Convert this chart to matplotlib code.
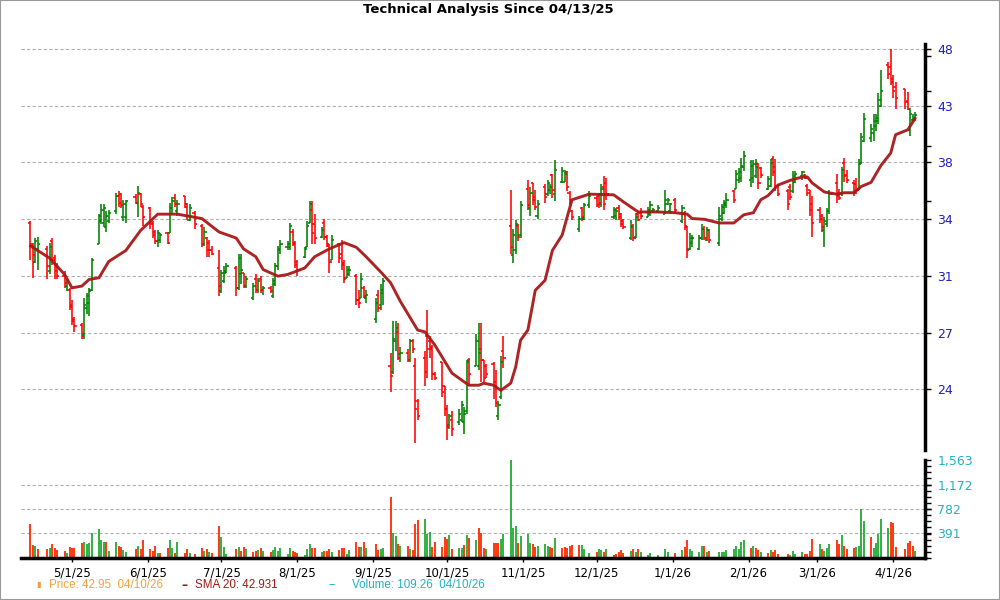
import matplotlib
matplotlib.use("Agg")
import matplotlib.pyplot as plt
import matplotlib.dates as mdates
from matplotlib.ticker import FixedLocator, FuncFormatter, NullFormatter
from matplotlib.patches import Rectangle
import numpy as np
import pandas as pd

# trading days shown (US market holidays removed)
holidays = ["2025-04-18", "2025-05-26", "2025-06-19", "2025-07-04", "2025-09-01",
            "2025-11-27", "2025-12-25", "2026-01-01", "2026-01-19", "2026-02-16",
            "2026-04-03"]
days = pd.bdate_range("2025-04-14", "2026-04-10")
days = days[~days.isin(pd.to_datetime(holidays))]

# daily OHLC, one line per week
opens = [34.0, 32.5, 31.5, 32.3,
         32.3, 30.9, 32.8, 31.7, 31.2,
         30.6, 30.0, 29.8, 28.9, 28.1,
         27.8, 27.3, 28.7, 29.0, 29.8,
         32.6, 34.1, 34.0, 33.7, 34.1,
         34.8, 35.9, 36.0, 34.4, 34.4,
         35.8, 35.4, 36.0, 35.1,
         35.0, 34.0, 33.4, 32.8, 32.9,
         33.3, 33.3, 35.0, 35.7, 34.8,
         35.9, 35.3, 34.2, 34.7,
         33.8, 32.6, 33.0, 32.7, 32.2,
         31.1, 29.7, 30.3, 30.8,
         31.1, 29.9, 30.7, 30.8, 30.0,
         29.3, 30.4, 29.8, 30.4, 29.8,
         29.9, 29.4, 30.1, 31.2, 32.2,
         32.4, 32.4, 33.4, 32.6, 31.5,
         31.8, 32.4, 34.0, 34.9, 33.9,
         33.1, 34.0, 33.1, 32.5, 31.6,
         32.6, 32.0, 31.4, 30.5, 30.7,
         30.6, 29.2, 29.3, 29.9, 29.3,
         28.1, 29.5, 28.9, 29.6,
         25.6, 25.3, 26.9, 27.4, 26.2,
         26.3, 25.9, 26.9, 25.6, 23.9,
         26.0, 27.2, 26.9, 26.5, 25.2,
         25.8, 24.6, 23.5, 22.8, 23.0,
         22.9, 23.0, 22.9, 23.4, 25.9,
         25.6, 25.6, 26.5, 25.9, 25.6,
         25.7, 24.8, 23.2, 24.1, 26.4,
         33.8, 31.9, 32.2, 33.8, 33.2,
         36.4, 35.0, 36.8, 35.8, 34.5,
         36.5, 36.0, 36.3, 37.4, 36.0,
         36.9, 36.9, 37.6, 36.1, 34.8,
         33.6, 35.0, 34.3, 35.2,
         35.7, 35.9, 35.3, 36.5, 36.8,
         34.4, 34.5, 35.0, 34.6, 34.1,
         33.0, 33.7, 33.1, 34.6, 34.7,
         34.4, 34.6, 34.8, 34.8,
         34.6, 35.3, 34.8, 35.6,
         34.1, 34.7, 33.7, 32.3, 32.7,
         32.3, 33.0, 33.6, 32.9, 33.5,
         32.7, 34.3, 34.7, 35.2,
         36.2, 36.4, 37.0, 37.2, 38.0,
         37.0, 37.2, 37.3, 38.2, 37.9,
         36.4, 36.6, 38.6, 38.0, 36.6,
         36.2, 36.5, 36.2, 36.9,
         37.3, 37.4, 36.6, 36.3, 35.3,
         34.9, 34.5, 33.5, 33.9, 34.8,
         36.8, 36.0, 36.0, 38.3, 37.4,
         36.8, 36.7, 36.4, 38.3, 40.0,
         40.2, 40.6, 41.2, 41.6, 42.9,
         46.5, 46.3, 45.0, 44.5,
         44.3, 43.3, 40.9, 41.7, 41.8]
highs = [34.1, 32.7, 33.0, 33.1,
         32.5, 32.7, 33.0, 31.9, 31.4,
         30.9, 30.4, 29.9, 29.2, 28.2,
         27.9, 29.3, 29.6, 29.9, 31.7,
         34.6, 35.3, 35.3, 34.8, 34.9,
         36.1, 36.2, 36.1, 35.6, 35.6,
         36.0, 36.6, 36.1, 35.2,
         35.1, 34.1, 33.5, 33.5, 33.3,
         33.4, 35.4, 35.8, 36.0, 35.6,
         35.9, 35.4, 35.3, 34.8,
         33.9, 33.7, 33.1, 32.9, 32.5,
         32.2, 31.0, 31.2, 31.4,
         31.2, 32.0, 32.0, 30.8, 30.6,
         30.2, 30.7, 30.5, 30.6, 30.0,
         30.0, 30.5, 31.4, 32.5, 32.9,
         32.8, 34.0, 33.6, 32.8, 31.6,
         32.4, 34.1, 35.5, 35.5, 34.6,
         33.7, 34.3, 33.2, 32.6, 33.2,
         32.7, 32.9, 31.6, 31.2, 31.2,
         30.7, 29.8, 30.8, 30.0, 29.8,
         29.3, 29.8, 30.1, 30.5,
         26.3, 28.0, 28.0, 27.9, 26.6,
         26.5, 27.0, 27.0, 26.0, 24.0,
         26.4, 28.6, 27.2, 26.7, 25.3,
         25.8, 24.6, 23.7, 23.3, 23.4,
         23.5, 23.9, 23.6, 25.9, 26.0,
         27.3, 27.9, 27.9, 25.9, 25.7,
         25.8, 25.4, 23.9, 26.1, 27.2,
         36.3, 33.6, 34.2, 33.9, 35.5,
         37.0, 36.5, 36.8, 36.3, 35.6,
         36.7, 37.0, 36.7, 37.5, 38.5,
         38.0, 37.8, 37.7, 36.2, 34.9,
         34.5, 35.1, 35.4, 36.2,
         35.9, 36.1, 36.7, 37.3, 37.2,
         35.1, 35.0, 35.2, 34.7, 34.3,
         34.2, 33.9, 34.7, 34.7, 35.0,
         35.1, 35.5, 35.0, 35.2,
         36.3, 35.7, 35.4, 35.7,
         35.2, 34.8, 33.8, 33.3, 33.2,
         33.2, 33.9, 33.8, 33.7, 33.6,
         35.1, 35.3, 35.6, 36.1,
         36.3, 37.8, 37.9, 38.7, 39.2,
         38.5, 38.5, 38.6, 38.3, 38.0,
         37.3, 38.6, 38.8, 38.6, 36.7,
         36.4, 36.7, 37.7, 37.7,
         37.7, 37.5, 36.7, 36.3, 35.9,
         35.1, 34.6, 34.4, 35.0, 36.3,
         37.5, 36.4, 38.0, 38.7, 37.8,
         37.0, 37.2, 38.6, 40.6, 42.3,
         41.4, 42.2, 42.2, 44.0, 46.0,
         46.8, 48.0, 45.6, 45.0,
         44.3, 44.1, 42.7, 42.2, 42.4]
lows = [31.6, 30.5, 31.4, 31.0,
        30.4, 30.7, 31.3, 30.4, 30.4,
        29.9, 29.7, 28.6, 27.8, 27.4,
        27.0, 27.0, 28.4, 28.3, 29.7,
        32.6, 33.9, 33.7, 33.4, 34.0,
        34.6, 35.1, 35.0, 34.1, 34.0,
        35.3, 34.4, 35.1, 33.8,
        33.6, 33.0, 32.6, 32.4, 32.7,
        32.6, 33.3, 34.6, 35.1, 34.5,
        35.0, 34.2, 34.1, 33.6,
        32.4, 32.5, 31.8, 31.8, 31.9,
        29.4, 29.6, 30.2, 30.8,
        29.4, 29.8, 30.1, 29.9, 29.9,
        29.2, 29.6, 29.6, 29.6, 29.5,
        29.6, 29.3, 30.0, 31.0, 32.0,
        32.2, 32.2, 32.5, 31.1, 30.6,
        31.7, 32.4, 34.0, 32.6, 32.6,
        33.0, 32.9, 32.4, 30.8, 31.6,
        31.4, 31.0, 30.2, 30.5, 30.6,
        28.9, 28.7, 29.3, 29.3, 29.0,
        27.9, 28.5, 28.6, 28.9,
        24.3, 25.2, 26.4, 25.9, 25.8,
        25.8, 25.8, 26.3, 22.0, 23.0,
        24.6, 25.0, 26.0, 24.9, 24.9,
        24.1, 23.2, 22.1, 22.6, 22.3,
        22.8, 22.9, 22.4, 23.3, 24.6,
        25.6, 25.4, 24.8, 24.8, 25.0,
        24.0, 23.6, 23.0, 24.0, 25.5,
        32.0, 31.4, 32.0, 32.8, 33.0,
        34.9, 34.5, 35.2, 34.9, 34.3,
        35.4, 35.9, 36.0, 35.7, 35.5,
        36.8, 36.9, 36.2, 35.2, 34.2,
        33.4, 34.1, 34.2, 35.0,
        35.1, 35.0, 35.1, 34.9, 35.6,
        34.3, 34.2, 34.2, 33.7, 33.6,
        32.9, 32.8, 33.0, 34.1, 34.3,
        34.4, 34.5, 34.7, 34.7,
        34.6, 35.2, 34.7, 34.7,
        34.0, 33.5, 31.7, 32.2, 32.4,
        32.2, 32.9, 32.9, 32.8, 32.7,
        32.5, 34.1, 34.6, 35.0,
        35.4, 36.4, 36.8, 36.9, 37.7,
        36.5, 36.8, 37.2, 36.4, 37.2,
        36.3, 36.5, 37.3, 36.2, 35.9,
        34.9, 35.6, 36.1, 36.8,
        37.0, 37.1, 35.9, 34.5, 33.1,
        34.0, 33.4, 32.4, 33.7, 34.6,
        35.4, 35.6, 35.9, 36.9, 36.8,
        35.9, 36.0, 36.3, 38.2, 39.9,
        39.9, 40.0, 40.8, 41.4, 42.8,
        45.2, 44.7, 43.6, 42.6,
        42.6, 42.5, 40.4, 41.5, 41.6]
closes = [32.6, 31.9, 32.8, 32.6,
          31.2, 32.4, 31.6, 30.9, 30.6,
          30.2, 30.3, 28.8, 28.0, 27.7,
          27.2, 28.9, 29.4, 29.7, 31.6,
          34.5, 34.9, 35.0, 34.5, 34.7,
          35.9, 35.4, 35.2, 35.3, 35.5,
          35.4, 36.1, 35.3, 34.4,
          33.9, 33.2, 32.8, 33.3, 33.2,
          32.7, 35.0, 35.5, 35.3, 35.3,
          35.1, 34.5, 35.0, 33.9,
          32.6, 33.4, 32.2, 32.2, 32.0,
          30.0, 30.8, 30.9, 31.2,
          29.9, 31.7, 31.0, 30.0, 30.4,
          30.0, 29.8, 30.3, 29.8, 29.9,
          29.7, 30.3, 31.2, 32.3, 32.6,
          32.6, 33.8, 32.7, 31.3, 31.0,
          32.3, 33.8, 35.3, 33.3, 33.0,
          33.5, 33.1, 32.6, 31.5, 32.9,
          31.7, 31.3, 30.4, 31.0, 31.0,
          29.2, 29.0, 30.4, 29.4, 29.5,
          29.0, 28.7, 29.8, 30.3,
          25.1, 27.0, 27.6, 26.0, 26.3,
          25.9, 26.9, 26.5, 23.5, 23.2,
          25.3, 26.5, 26.6, 25.2, 25.0,
          24.3, 23.5, 22.7, 23.2, 22.6,
          23.3, 23.7, 23.3, 25.8, 25.2,
          26.9, 26.3, 25.9, 25.0, 25.2,
          24.6, 23.8, 23.7, 25.8, 26.0,
          32.4, 33.2, 33.9, 33.1, 35.2,
          35.2, 36.1, 35.6, 35.1, 35.3,
          35.8, 36.8, 36.5, 36.3, 37.8,
          37.7, 37.5, 36.5, 35.6, 34.4,
          34.3, 34.4, 35.2, 35.9,
          35.2, 35.4, 36.4, 35.3, 36.0,
          34.9, 34.8, 34.4, 33.9, 33.7,
          33.8, 33.0, 34.4, 34.2, 34.5,
          34.9, 35.2, 34.9, 35.0,
          35.6, 35.6, 35.3, 34.9,
          35.0, 33.8, 32.2, 33.0, 33.0,
          33.0, 33.6, 33.0, 33.5, 32.9,
          34.5, 35.1, 35.4, 35.6,
          35.6, 37.5, 37.6, 38.1, 38.8,
          38.1, 38.2, 38.0, 36.8, 37.4,
          37.1, 38.3, 37.6, 36.6, 36.0,
          35.3, 35.8, 37.3, 37.5,
          37.6, 37.2, 36.1, 34.9, 34.0,
          34.3, 33.7, 34.1, 34.8, 36.0,
          35.9, 35.7, 37.8, 37.3, 37.0,
          36.2, 36.3, 38.2, 40.3, 41.8,
          41.0, 41.6, 41.9, 43.4, 44.2,
          45.7, 45.2, 44.2, 43.6,
          43.2, 42.6, 42.2, 41.9, 42.1]
volumes = [537, 213, 186, 138,
           138, 165, 229, 154, 133,
           117, 85, 181, 165, 165,
           234, 260, 229, 245, 404,
           468, 292, 260, 260, 117,
           260, 197, 181, 133, 101,
           149, 197, 149, 292,
           149, 117, 197, 85, 85,
           165, 292, 165, 85, 260,
           85, 149, 85, 69,
           165, 117, 149, 101, 85,
           516, 340, 181, 69,
           149, 181, 117, 181, 149,
           101, 117, 133, 165, 117,
           101, 133, 181, 117, 165,
           69, 165, 117, 101, 85,
           53, 149, 229, 165, 165,
           101, 117, 117, 149, 101,
           133, 165, 165, 69, 133,
           260, 181, 181, 260, 165,
           229, 133, 149, 165,
           978, 404, 356, 229, 197,
           197, 149, 133, 548, 612,
           627, 388, 420, 181, 260,
           181, 340, 308, 372, 149,
           165, 165, 213, 372, 324,
           292, 484, 404, 165, 149,
           245, 245, 245, 308, 388,
           1560, 484, 516, 245, 356,
           388, 245, 229, 181, 197,
           229, 197, 181, 165, 324,
           165, 181, 165, 197, 213,
           213, 213, 149, 85,
           101, 149, 133, 101, 149,
           53, 69, 101, 133, 85,
           117, 149, 101, 149, 101,
           53, 85, 21, 53,
           149, 101, 21, 85,
           133, 181, 292, 149, 117,
           101, 197, 197, 101, 117,
           101, 101, 101, 133,
           149, 197, 149, 260, 292,
           165, 197, 165, 133, 101,
           85, 133, 101, 133, 69,
           69, 53, 117, 69,
           101, 69, 69, 117, 308,
           229, 149, 117, 165, 229,
           292, 229, 372, 197, 149,
           165, 181, 197, 787, 595,
           340, 165, 245, 388, 627,
           484, 580, 564, 181,
           149, 245, 276, 197, 109]

# 20-day simple moving average as drawn
sma_dates = ["2025-04-14", "2025-04-22", "2025-04-28", "2025-05-01", "2025-05-05",
             "2025-05-08", "2025-05-12", "2025-05-16", "2025-05-23", "2025-05-29",
             "2025-06-05", "2025-06-13", "2025-06-23", "2025-06-30", "2025-07-07",
             "2025-07-10", "2025-07-15", "2025-07-18", "2025-07-24", "2025-07-28",
             "2025-08-04", "2025-08-08", "2025-08-14", "2025-08-20", "2025-08-25",
             "2025-08-29", "2025-09-04", "2025-09-08", "2025-09-12", "2025-09-19",
             "2025-09-22", "2025-09-26", "2025-10-03", "2025-10-07", "2025-10-10",
             "2025-10-14", "2025-10-16", "2025-10-20", "2025-10-23", "2025-10-27",
             "2025-10-29", "2025-10-31", "2025-11-03", "2025-11-06", "2025-11-10",
             "2025-11-13", "2025-11-17", "2025-11-19", "2025-11-21", "2025-11-28",
             "2025-12-08", "2025-12-12", "2025-12-18", "2025-12-26", "2026-01-02",
             "2026-01-07", "2026-01-09", "2026-01-14", "2026-01-20", "2026-01-26",
             "2026-01-30", "2026-02-03", "2026-02-06", "2026-02-09", "2026-02-13",
             "2026-02-18", "2026-02-23", "2026-02-25", "2026-02-27", "2026-03-04",
             "2026-03-09", "2026-03-12", "2026-03-16", "2026-03-19", "2026-03-23",
             "2026-03-27", "2026-03-31", "2026-04-02", "2026-04-07", "2026-04-10"]
sma_vals = [32.5, 31.7, 30.7, 29.9, 30.0, 30.4, 30.5, 31.5, 32.2, 33.5,
            34.6, 34.6, 34.3, 33.4, 33.0, 32.3, 31.8, 31.0, 30.6, 30.7,
            31.1, 31.8, 32.3, 32.7, 32.4, 31.8, 30.85, 30.2, 29.1, 27.5,
            27.4, 26.7, 25.25, 24.9, 24.65, 24.65, 24.75, 24.65, 24.4, 24.75,
            25.55, 26.95, 27.5, 29.75, 30.35, 32.2, 33.2, 34.4, 35.6, 36.0,
            35.95, 35.45, 34.75, 34.75, 34.7, 34.6, 34.3, 34.25, 34.0, 34.0,
            34.55, 34.7, 35.6, 35.9, 36.65, 37.0, 37.25, 37.25, 36.8, 36.15,
            36.0, 36.1, 36.1, 36.55, 36.85, 38.1, 39.05, 40.5, 40.9, 41.85]

price_tick_labels = ["24", "27", "31", "34", "38", "43", "48"]
vol_ticks = [391, 782, 1172, 1563]
vol_tick_labels = ["391", "782", "1,172", "1,563"]

GREEN = "#008000"
RED = "#ff0000"
VGREEN = "#22aa33"
VRED = "#ff2a00"
FONT = ["Liberation Sans", "DejaVu Sans"]

o = np.array(opens); h = np.array(highs); l = np.array(lows); c = np.array(closes)
v = np.array(volumes)
x = mdates.date2num(days)
cols = np.where(c >= o, GREEN, RED)
prev = np.r_[o[0], c[:-1]]
vcols = np.where(c >= prev, VGREEN, VRED)

fig = plt.figure(figsize=(10, 6), dpi=100)
ax = fig.add_axes([0.021, 0.25, 0.904, 0.6767])
axv = fig.add_axes([0.021, 0.07, 0.904, 0.1633], sharex=ax)

# price bars
ax.vlines(x, l, h, colors=cols, lw=1.15)
ax.hlines(o, x - 0.9, x, colors=cols, lw=1.15)
ax.hlines(c, x, x + 0.9, colors=cols, lw=1.15)
ax.plot(mdates.date2num(pd.to_datetime(sma_dates)), sma_vals, color="#a81818", lw=2.1,
        alpha=0.95, solid_capstyle="round", solid_joinstyle="round")

ax.set_yscale("log")
ax.set_ylim(21.68, 48.48)
ax.set_xlim(mdates.date2num(pd.Timestamp("2025-04-10 05:00")),
            mdates.date2num(pd.Timestamp("2026-04-14")))
ax.yaxis.set_major_locator(FixedLocator(np.geomspace(24.45, 48, 7)))
ax.yaxis.set_major_formatter(FuncFormatter(lambda val, pos: price_tick_labels[pos] if pos is not None else ""))
ax.yaxis.set_minor_locator(FixedLocator([35.5, 39.6, 44.2, 47.3]))
ax.yaxis.set_minor_formatter(NullFormatter())
ax.yaxis.tick_right()
ax.tick_params(axis="y", which="both", direction="out", length=4, width=1, color="black")
ax.tick_params(axis="y", which="major", labelcolor="#2020c0", labelsize=9, pad=5)
ax.tick_params(axis="x", which="both", bottom=False, labelbottom=False)
ax.grid(True, axis="y", which="major", ls=(0, (3, 2)), color="#b0b0b0", lw=0.8)
for s in ["top", "left", "bottom"]:
    ax.spines[s].set_visible(False)
ax.spines["right"].set_linewidth(2.5)

# volume
axv.vlines(x, 0, v, colors=vcols, lw=1.3)
axv.set_ylim(0, 1563)
axv.yaxis.tick_right()
axv.set_yticks(vol_ticks)
axv.set_yticklabels(vol_tick_labels)
axv.yaxis.set_minor_locator(FixedLocator(np.arange(0, 1563, 1563 / 16)))
axv.tick_params(axis="y", which="both", direction="out", length=4, width=1, color="black")
axv.tick_params(axis="y", which="major", labelcolor="#22b2c2", labelsize=9, pad=5)
axv.grid(True, axis="y", ls=(0, (3, 2)), color="#b0b0b0", lw=0.8)
axv.get_ygridlines()[-1].set_visible(False)
axv.xaxis.set_major_locator(mdates.MonthLocator())
axv.xaxis.set_major_formatter(FuncFormatter(
    lambda val, pos: "{0.month}/{0.day}/{0:%y}".format(mdates.num2date(val))))
axv.tick_params(axis="x", direction="out", length=3, width=1, labelsize=8.5, pad=3)
for s in ["top", "left"]:
    axv.spines[s].set_visible(False)
axv.spines["right"].set_linewidth(2.5)
axv.spines["bottom"].set_linewidth(2.5)

fig.text(0.488, 1 - 10 / 600, "Technical Analysis Since 04/13/25", ha="center", va="center",
         fontsize=9.5, fontweight="bold")

# legend row
ly = 1 - 585 / 600
fig.text(0.036, ly, "\u25AE", color="#f0a040", fontsize=6, va="center")
fig.text(0.049, ly, "Price: 42.95  04/10/26", color="#f5a142", fontsize=8.4, va="center",
         family=FONT)
fig.text(0.181, ly, "\u2013", color="#a81818", fontsize=9, va="center", fontweight="bold")
fig.text(0.195, ly, "SMA 20: 42.931", color="#a81818", fontsize=8.4, va="center", family=FONT)
fig.text(0.328, ly, "\u2013", color="#22b2c2", fontsize=9, va="center")
fig.text(0.352, ly, "Volume: 109.26  04/10/26", color="#22b2c2", fontsize=8.4, va="center",
         family=FONT)

fig.patches.append(Rectangle((0, 0), 1, 1, transform=fig.transFigure, fill=False,
                             ec="#999999", lw=1.5))

fig.savefig("out.png", dpi=100)
